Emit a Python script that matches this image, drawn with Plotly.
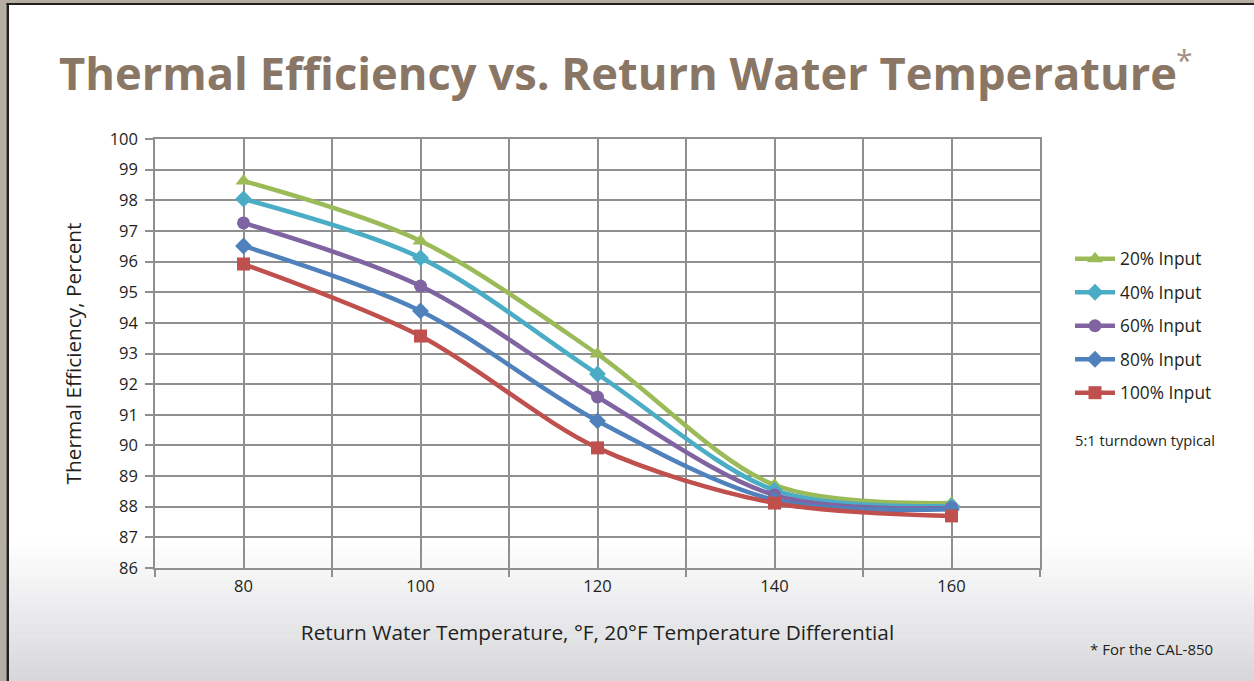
import plotly.graph_objects as go

# ---- data ----
temps = [80, 100, 120, 140, 160]
eff_20 = [98.63, 96.67, 92.98, 88.71, 88.12]
eff_40 = [98.04, 96.12, 92.33, 88.54, 88.02]
eff_60 = [97.26, 95.20, 91.58, 88.38, 87.96]
eff_80 = [96.51, 94.39, 90.80, 88.22, 87.92]
eff_100 = [95.92, 93.57, 89.92, 88.12, 87.70]
series_names = ["20% Input", "40% Input", "60% Input", "80% Input", "100% Input"]
x_ticks = [80, 100, 120, 140, 160]
y_ticks = list(range(86, 101))

W, H = 1254, 681
L, R, T, B = 155, 214, 139, 113

colors = ["#9BBB59", "#4BACC6", "#8064A2", "#4F81BD", "#C0504D"]
symbols = ["triangle-up", "diamond", "circle", "diamond", "square"]
sizes = [14, 13, 13, 13, 13]
series = [eff_20, eff_40, eff_60, eff_80, eff_100]

TXT = "#231f20"
FONT = "Open Sans"
GRID = "#8f8f8f"

fig = go.Figure()
for i, (name, vals) in enumerate(zip(series_names, series)):
    fig.add_trace(go.Scatter(
        x=temps, y=vals, name=name, mode="lines+markers",
        line=dict(color=colors[i], width=4.5, shape="spline", smoothing=0.9),
        marker=dict(color=colors[i], symbol=symbols[i], size=sizes[i]),
        legendgroup=f"g{i}",
    ))


def px_x(p):
    return (p - L) / (W - L - R)


def px_y(p):
    return (H - B - p) / (H - T - B)


shapes = []
# bottom gradient background
y0g, y1g = 540, H
nb = 40
for k in range(nb):
    t = (k + 0.5) / nb
    c0 = (255, 255, 255)
    c1 = (214, 215, 218)
    c = tuple(int(round(c0[j] + (c1[j] - c0[j]) * t)) for j in range(3))
    ya = y0g + (y1g - y0g) * k / nb
    yb = y0g + (y1g - y0g) * (k + 1) / nb + 0.6
    shapes.append(dict(type="rect", xref="paper", yref="paper",
                       x0=px_x(0), x1=px_x(W), y0=px_y(yb), y1=px_y(ya),
                       fillcolor="rgb(%d,%d,%d)" % c, line=dict(width=0), layer="below"))

# frame left and top
frame = "#b6ada4"
shapes.append(dict(type="rect", xref="paper", yref="paper", x0=px_x(0), x1=px_x(6.5),
                   y0=px_y(H), y1=px_y(0), fillcolor=frame, line=dict(width=0), layer="above"))
shapes.append(dict(type="rect", xref="paper", yref="paper", x0=px_x(6.5), x1=px_x(9),
                   y0=px_y(H), y1=px_y(3), fillcolor="#231f20", line=dict(width=0), layer="above"))
shapes.append(dict(type="rect", xref="paper", yref="paper", x0=px_x(0), x1=px_x(W),
                   y0=px_y(3), y1=px_y(0), fillcolor=frame, line=dict(width=0), layer="above"))
shapes.append(dict(type="rect", xref="paper", yref="paper", x0=px_x(6.5), x1=px_x(W),
                   y0=px_y(5), y1=px_y(3), fillcolor="#231f20", line=dict(width=0), layer="above"))

annotations = [
    dict(text="*", xref="paper", yref="paper", x=px_x(1174), y=px_y(60),
         xanchor="left", yanchor="middle", showarrow=False,
         font=dict(family=FONT, size=30, color="#a28f80")),
    dict(text="5:1 turndown typical", xref="paper", yref="paper", x=px_x(1073), y=px_y(440),
         xanchor="left", yanchor="middle", showarrow=False,
         font=dict(family=FONT, size=14.7, color=TXT)),
    dict(text="* For the CAL-850", xref="paper", yref="paper", x=px_x(1088), y=px_y(649),
         xanchor="left", yanchor="middle", showarrow=False,
         font=dict(family=FONT, size=15, color=TXT)),
]

fig.update_layout(
    width=W, height=H,
    margin=dict(l=L, r=R, t=T, b=B, autoexpand=False),
    paper_bgcolor="white", plot_bgcolor="white",
    title=dict(text="<b>Thermal Efficiency vs. Return Water Temperature</b>",
               xref="container", yref="container", x=618 / W, y=1 - 74 / H,
               xanchor="center", yanchor="middle",
               font=dict(family=FONT, size=45.3, color="#8a7665")),
    showlegend=True,
    legend=dict(x=px_x(1070), y=px_y(241), xanchor="left", yanchor="top",
                bgcolor="rgba(0,0,0,0)", tracegroupgap=8,
                font=dict(family=FONT, size=17.3, color=TXT), itemwidth=40),
    xaxis=dict(range=[70, 170], tickvals=x_ticks, ticks="", showgrid=True,
               gridcolor=GRID, gridwidth=1.5, showline=True, linecolor=GRID, linewidth=1.5,
               mirror=True, zeroline=False, ticklabelstandoff=2,
               tickfont=dict(family=FONT, size=16.5, color=TXT),
               minor=dict(tick0=70, dtick=20, ticks="outside", ticklen=7, tickcolor=GRID,
                          tickwidth=1.5, showgrid=True, gridcolor=GRID, gridwidth=1.5),
               title=dict(text="Return Water Temperature, °F, 20°F Temperature Differential",
                          font=dict(family=FONT, size=20.8, color=TXT), standoff=30)),
    yaxis=dict(range=[86, 100], tickvals=y_ticks, ticks="outside", ticklen=8,
               tickcolor=GRID, tickwidth=1.5, showgrid=True, gridcolor=GRID, gridwidth=1.5,
               showline=True, linecolor=GRID, linewidth=1.5, mirror=True, zeroline=False,
               ticklabelstandoff=4,
               tickfont=dict(family=FONT, size=16.5, color=TXT),
               title=dict(text="Thermal Efficiency, Percent",
                          font=dict(family=FONT, size=20.8, color=TXT), standoff=22)),
    shapes=shapes,
    annotations=annotations,
)

fig.write_html("out.html", config={"displayModeBar": False},
               post_script="document.body.style.margin='0';document.body.style.overflow='hidden';")
